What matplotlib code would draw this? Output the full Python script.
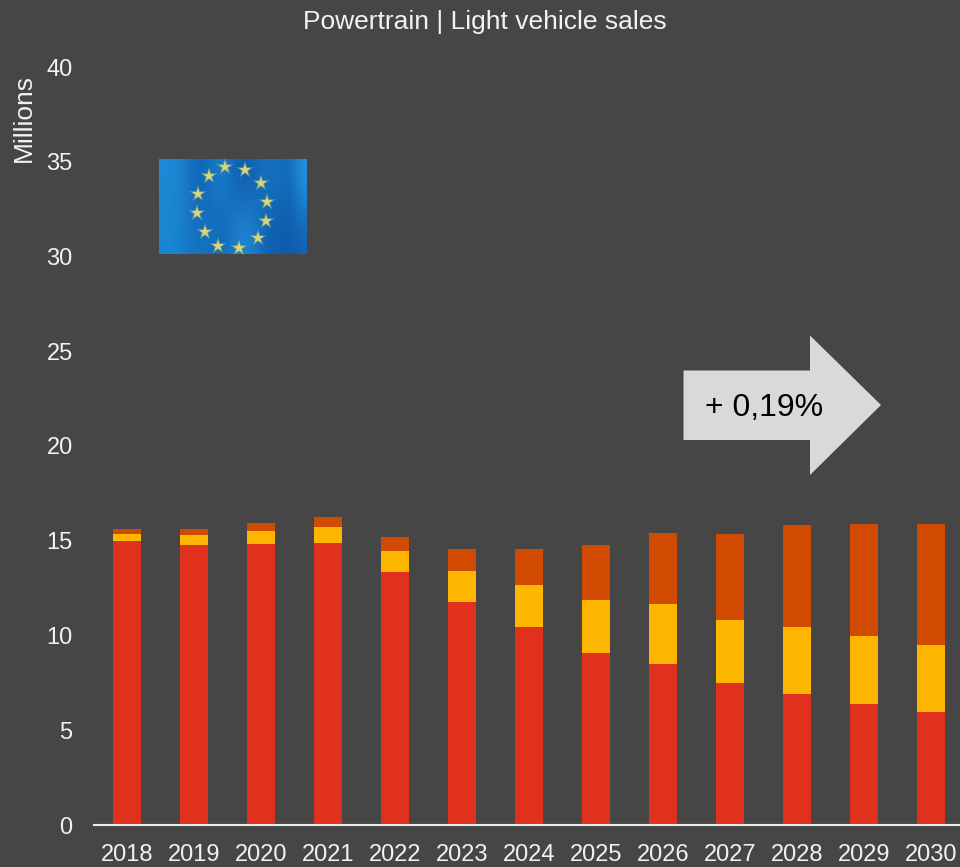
import numpy as np
import matplotlib
matplotlib.use("Agg")
import matplotlib.pyplot as plt
from matplotlib.patches import Polygon

plt.rcParams["font.family"] = ["Liberation Sans", "DejaVu Sans"]

years = ["2018", "2019", "2020", "2021", "2022", "2023", "2024",
         "2025", "2026", "2027", "2028", "2029", "2030"]

# stacked segments, millions
red = [14.99, 14.80, 14.85, 14.87, 13.35, 11.77, 10.45, 9.08, 8.50, 7.50, 6.90, 6.40, 5.96]
yellow = [0.37, 0.50, 0.69, 0.83, 1.11, 1.63, 2.21, 2.79, 3.16, 3.32, 3.55, 3.57, 3.54]
orange = [0.24, 0.30, 0.38, 0.56, 0.72, 1.18, 1.92, 2.93, 3.76, 4.56, 5.40, 5.91, 6.36]

yticks = [0, 5, 10, 15, 20, 25, 30, 35, 40]

BG = "#464646"
TXT = "#f2f2f2"
W, H = 960, 867

fig = plt.figure(figsize=(W / 100, H / 100), dpi=100, facecolor=BG)

# main axes runs slightly past the right edge, the last bar slot is cut like in the slide
ax = fig.add_axes([93.5 / W, (H - 825) / H, 871 / W, 758 / H], facecolor=BG)
x = np.arange(len(years))
red_a = np.array(red)
yellow_a = np.array(yellow)
orange_a = np.array(orange)
ax.bar(x, red_a, width=0.41, color="#e0301e")
ax.bar(x, yellow_a, width=0.41, bottom=red_a, color="#ffb600")
ax.bar(x, orange_a, width=0.41, bottom=red_a + yellow_a, color="#d04a02")

ax.set_xlim(-0.5, 12.5)
ax.set_ylim(0, 40)
ax.set_xticks(x, years)
ax.set_yticks(yticks)
for s in ["top", "left", "right"]:
    ax.spines[s].set_visible(False)
ax.spines["bottom"].set_color("#ececec")
ax.spines["bottom"].set_linewidth(1.5)
ax.tick_params(axis="x", length=0, pad=13.5, labelsize=17, labelcolor=TXT)
ax.tick_params(axis="y", length=0, pad=15, labelsize=17, labelcolor=TXT)

# overlay in pixel coords for the slide furniture
ov = fig.add_axes([0, 0, 1, 1], facecolor="none")
ov.set_xlim(0, W)
ov.set_ylim(H, 0)
ov.axis("off")

ov.text(484.5, 22, "Powertrain | Light vehicle sales", color=TXT, fontsize=19,
        ha="center", va="center")
ov.text(24, 118.5, "Millions", color=TXT, fontsize=19, rotation=90,
        ha="center", va="center")

# arrow
arrow_pts = [(683.5, 370.5), (810, 370.5), (810, 335.5), (881, 405),
             (810, 475), (810, 440), (683.5, 440)]
ov.add_patch(Polygon(arrow_pts, closed=True, facecolor="#d9d9d9", edgecolor="none"))
ov.text(764, 407.5, "+ 0,19%", color="black", fontsize=23, ha="center", va="center")

# EU flag, blue folds running diagonally
flag_top = ["#1c8ad6", "#1b86d2", "#1878c8", "#0f62b2", "#1470c0", "#1a80cc", "#1166b6",
            "#0f5eae", "#1166b6", "#1672c2", "#1672c2", "#1168b8", "#2494e0"]
flag_bot = ["#1b86d2", "#1a84d0", "#1878c6", "#1472c2", "#1472c0", "#1166b6", "#1a7cca",
            "#2088d2", "#1a7cca", "#0f60b0", "#0f5cae", "#0e5aa8", "#1264b4"]
flag_img = np.array([[matplotlib.colors.to_rgb(c) for c in flag_top],
                     [matplotlib.colors.to_rgb(c) for c in flag_bot]])
ov.imshow(flag_img, extent=(159, 307, 254, 159), aspect="auto",
          interpolation="bicubic", zorder=2)
ov.set_xlim(0, W)
ov.set_ylim(H, 0)

star_x = [225, 245, 261, 267, 266, 258, 239, 218, 205, 197, 198, 209]
star_y = [167, 170, 183, 202, 221, 238, 248, 246, 232, 213, 194, 176]
ov.scatter(star_x, star_y, marker="*", s=170, color="#b8c070", alpha=0.45,
           edgecolors="none", zorder=3)
ov.scatter(star_x, star_y, marker="*", s=80, color="#d8d878", edgecolors="none", zorder=3)

fig.savefig("out.png", dpi=100, facecolor=BG)
